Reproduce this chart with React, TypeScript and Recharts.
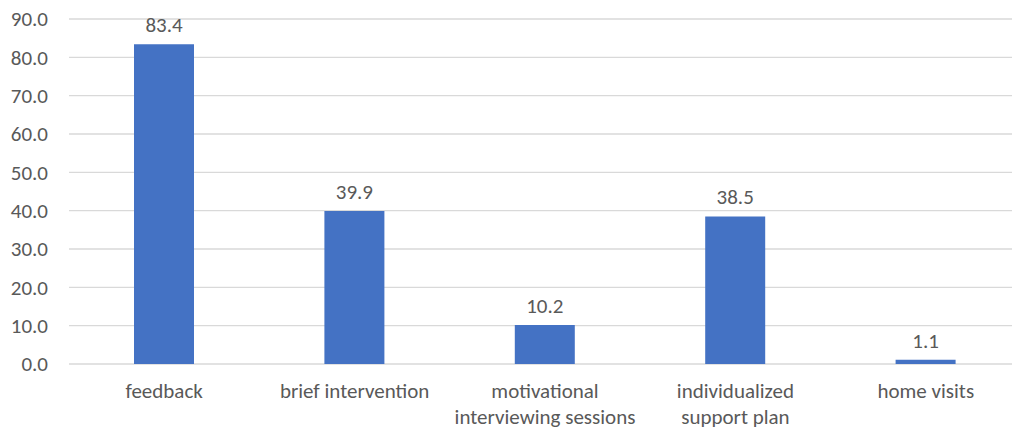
import { BarChart, Bar, XAxis, YAxis, CartesianGrid, LabelList } from "recharts";

const CATEGORIES = [
  "feedback",
  "brief intervention",
  "motivational\ninterviewing sessions",
  "individualized\nsupport plan",
  "home visits",
];
const VALUES = [83.4, 39.9, 10.2, 38.5, 1.1];
const Y_TICKS = [0, 10, 20, 30, 40, 50, 60, 70, 80, 90];

const FONT = "Carlito, Calibri, 'Open Sans', sans-serif";
const TEXT = "#595959";
const FS = 21;

const data = CATEGORIES.map((name, i) => ({ name, value: VALUES[i] }));

function CategoryTick({ x, y, payload }: any) {
  const lines = String(payload.value).split("\n");
  return (
    <text x={x} y={y} textAnchor="middle" fill={TEXT} fontSize={FS} fontFamily={FONT}>
      {lines.map((l, i) => (
        <tspan key={i} x={x} dy={26}>
          {l}
        </tspan>
      ))}
    </text>
  );
}

export default function App() {
  return (
    <div
      style={{
        position: "absolute",
        left: 0,
        top: 0,
        width: 1012,
        height: 430,
        overflow: "hidden",
        background: "#fff",
      }}
    >
      {/* plot runs a little past the right edge, as in the original */}
      <BarChart
        width={1021}
        height={430}
        data={data}
        margin={{ top: 19, right: 0, left: 0, bottom: 0 }}
      >
        <CartesianGrid vertical={false} stroke="#d9d9d9" strokeWidth={1.3} />
        <XAxis
          dataKey="name"
          axisLine={false}
          tickLine={false}
          interval={0}
          tick={<CategoryTick />}
          height={66}
        />
        <YAxis
          domain={[0, 90]}
          ticks={Y_TICKS}
          interval={0}
          axisLine={false}
          tickLine={false}
          width={69}
          tickMargin={15}
          tickFormatter={(v: number) => v.toFixed(1)}
          tick={{ fill: TEXT, fontSize: FS, fontFamily: FONT }}
        />
        <Bar dataKey="value" fill="#4472c4" barSize={60} isAnimationActive={false}>
          <LabelList
            dataKey="value"
            position="top"
            offset={12}
            formatter={(v: any) => Number(v).toFixed(1)}
            style={{ fill: TEXT, fontSize: FS, fontFamily: FONT }}
          />
        </Bar>
      </BarChart>
    </div>
  );
}
